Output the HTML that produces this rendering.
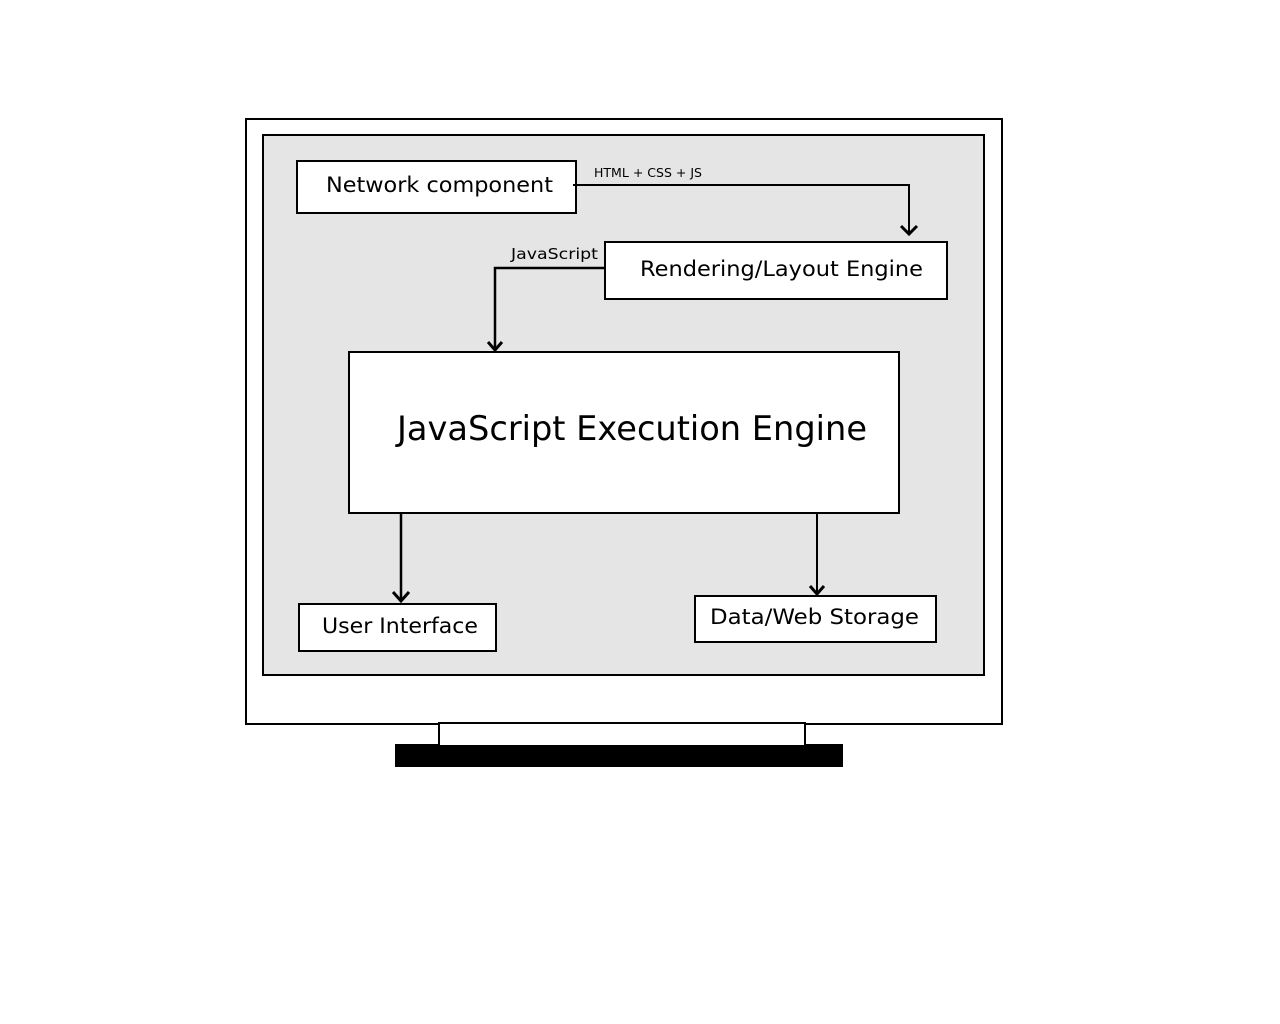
<!DOCTYPE html>
<html><head><meta charset="utf-8"><style>html,body{margin:0;padding:0;background:#fff}svg{display:block}</style></head>
<body>
<svg width="1280" height="1024" viewBox="0 0 1280 1024" xmlns="http://www.w3.org/2000/svg" font-family="'DejaVu Sans','Liberation Sans',sans-serif" fill="#000">
<rect x="0" y="0" width="1280" height="1024" fill="#fff"/>
<rect x="246" y="119" width="756" height="605" fill="#fff" stroke="#000" stroke-width="2"/>
<rect x="263" y="135" width="721" height="540" fill="#e5e5e5" stroke="#000" stroke-width="2"/>
<rect x="395" y="744" width="448" height="23" fill="#000"/>
<rect x="439" y="723" width="366" height="23" fill="#fff" stroke="#000" stroke-width="2"/>

<g stroke="#000" stroke-width="2" fill="none">
<rect x="297" y="161" width="279" height="52" fill="#fff"/>
<rect x="605" y="242" width="342" height="57" fill="#fff"/>
<rect x="349" y="352" width="550" height="161" fill="#fff"/>
<rect x="299" y="604" width="197" height="47" fill="#fff"/>
<rect x="695" y="596" width="241" height="46" fill="#fff"/>
<polyline points="573,185 909,185 909,234"/>
<polyline points="901,226 909,234 917,226" stroke-width="3"/>
<polyline points="605,268 495,268 495,350" stroke-width="2.5"/>
<polyline points="488,342 495,350 502,342" stroke-width="3"/>
<line x1="401" y1="513" x2="401" y2="601" stroke-width="2.5"/>
<polyline points="393,592 401,601 409,592" stroke-width="3"/>
<line x1="817" y1="513" x2="817" y2="594"/>
<polyline points="810,586 817,594 824,586" stroke-width="3"/>
</g>

<text x="326" y="192" font-size="21" textLength="227" lengthAdjust="spacingAndGlyphs">Network component</text>
<text x="594" y="177" font-size="12" textLength="108" lengthAdjust="spacingAndGlyphs">HTML + CSS + JS</text>
<text x="511" y="259" font-size="15" textLength="87" lengthAdjust="spacingAndGlyphs">JavaScript</text>
<text x="640" y="276" font-size="21" textLength="283" lengthAdjust="spacingAndGlyphs">Rendering/Layout Engine</text>
<text x="397" y="440" font-size="34" textLength="470" lengthAdjust="spacingAndGlyphs">JavaScript Execution Engine</text>
<text x="322" y="633" font-size="21" textLength="156" lengthAdjust="spacingAndGlyphs">User Interface</text>
<text x="710" y="624" font-size="21" textLength="209" lengthAdjust="spacingAndGlyphs">Data/Web Storage</text>
</svg>
</body></html>
